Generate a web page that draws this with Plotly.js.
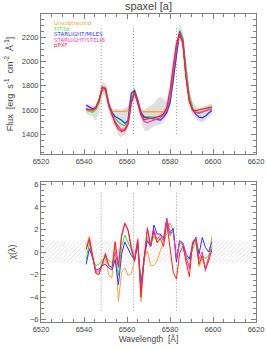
<!DOCTYPE html>
<html>
<head>
<meta charset="utf-8">
<script src="https://cdn.plot.ly/plotly-3.0.1.min.js"></script>
<style>html,body{margin:0;padding:0;background:#fff;}#chart{width:266px;height:349px;}</style>
</head>
<body>
<div id="chart"></div>
<script>
// Wavelength grid (Å)
const wavelength = [6541, 6542.5, 6544, 6545.5, 6547, 6548.5, 6550, 6551.5, 6553, 6554.5,
  6556, 6557.5, 6559, 6560.5, 6562, 6563.5, 6565, 6566.5, 6568, 6569.5,
  6571, 6572.5, 6574, 6575.5, 6577, 6578.5, 6580, 6581.5, 6583, 6584.5,
  6586, 6587.5, 6589, 6590.5, 6592, 6593.5, 6595, 6596.5, 6598, 6599.5];

const seriesNames = ["Unsubtracted", "FIT3d", "STARLIGHT/MILES", "STARLIGHT/STELIB", "pPXF"];
const seriesColors = ["#ffa040", "#33ee33", "#3333ff", "#ff33cc", "#ff2222"];

// Flux [erg s^-1 cm^-2 Å^-1]
const fluxUnsub = [1595,1590,1590,1610,1680,1790,1790,1650,1590,1588,1588,1588,1588,1595,1700,1750,1660,1585,1585,1585,1585,1585,1585,1585,1585,1595,1680,1850,2080,2240,2170,1900,1700,1610,1590,1580,1585,1595,1610,1625];
const fluxFit3d = [1600,1590,1580,1600,1660,1760,1760,1640,1575,1530,1500,1480,1470,1520,1700,1765,1680,1570,1545,1545,1545,1540,1540,1550,1565,1590,1660,1840,2080,2260,2200,1950,1720,1620,1580,1570,1580,1595,1605,1615];
const fluxMiles = [1640,1625,1610,1620,1680,1790,1770,1650,1580,1545,1530,1515,1490,1510,1740,1760,1680,1580,1540,1535,1530,1525,1520,1515,1540,1580,1660,1850,2080,2250,2170,1880,1680,1600,1565,1540,1535,1550,1575,1595];
const fluxStelib = [1610,1605,1600,1620,1680,1780,1770,1640,1560,1500,1460,1430,1445,1490,1660,1745,1660,1560,1505,1495,1505,1515,1525,1535,1560,1600,1700,1900,2120,2240,2160,1880,1680,1600,1580,1575,1585,1595,1600,1605];
const fluxPpxf = [1605,1600,1598,1615,1680,1785,1780,1640,1555,1490,1440,1420,1430,1480,1660,1745,1660,1560,1520,1525,1530,1530,1540,1550,1570,1620,1760,1960,2150,2235,2150,1860,1670,1600,1595,1600,1605,1615,1620,1625];
// Observed flux envelope (grey band)
const fluxLow = [1570,1560,1545,1510,1570,1730,1710,1590,1510,1450,1390,1375,1400,1450,1630,1710,1610,1510,1430,1425,1445,1465,1475,1480,1505,1545,1610,1790,2030,2190,2110,1810,1630,1555,1525,1505,1495,1515,1545,1565];
const fluxHigh = [1650,1640,1630,1645,1710,1830,1820,1690,1610,1610,1605,1600,1615,1630,1750,1795,1710,1615,1600,1625,1635,1655,1690,1710,1690,1670,1790,1990,2190,2315,2250,1980,1770,1670,1635,1615,1625,1635,1645,1655];

// Residuals chi(lambda)
const chiUnsub = [0.5,1.4,-0.3,-1.8,-1.9,-1.3,-0.6,-2.0,-2.3,0.9,-4.4,-1.8,-1.4,-2.1,-1.9,-0.8,1.2,-4.4,-0.6,0.1,-1.2,-1.2,-0.8,0.1,0.8,1.6,2.6,1.9,-0.5,0.9,0.6,-0.6,-1.3,0.5,1.3,-1.3,-0.6,-1.4,-0.5,1.4];
const chiFit3d = [-0.7,0.8,-0.6,-1.2,-1.1,-0.7,-0.5,-0.7,-1.0,-0.5,-2.1,0.5,1.5,0.8,0.2,-0.9,0.9,-2.9,-0.4,1.3,0.6,1.4,0.9,1.3,1.0,2.5,1.4,2.0,-0.7,0.8,0.6,-0.5,-0.7,0.2,0.9,-0.8,-0.3,-0.6,-0.3,0.5];
const chiMiles = [-1.1,0.3,-0.5,-1.6,-1.5,-1.2,-1.1,-1.4,-1.6,-0.7,-2.9,-0.2,0.9,0.3,-0.3,-0.7,0.7,-2.9,-0.5,1.0,0.5,2.4,1.6,1.6,1.2,3.0,1.7,2.1,-0.9,1.0,0.8,-0.2,-0.6,0.6,1.3,-0.2,1.3,0.4,0.0,0.9];
const chiStelib = [0.3,1.1,-0.5,-1.7,-1.7,-1.0,-0.3,-1.2,-1.4,0.0,-1.4,1.5,2.6,2.0,0.5,-0.6,1.1,-3.5,-0.3,2.2,0.6,2.0,1.1,1.5,1.0,2.9,1.6,1.8,-0.6,1.0,0.7,-0.4,-1.5,0.9,1.2,-0.6,0.0,-1.7,-0.4,0.3];
const chiPpxf = [0.2,1.2,-0.3,-1.9,-2.0,-1.1,-0.1,-1.2,-1.4,0.9,-1.2,1.4,2.5,1.9,0.3,-0.8,1.0,-4.0,-0.5,2.0,0.5,1.8,0.8,1.2,0.5,2.6,0.3,-1.8,-2.4,-0.1,0.5,-0.9,-2.2,0.8,1.1,-1.1,-0.3,-1.5,-0.8,0.2];

// Emission line markers (Å): [NII] 6548, Halpha, [NII] 6583
const lineWl = [6548, 6563, 6583];
const lineSpanTop = [1400, 2300];
const lineSpanBottom = [-5.2, 5.3];
// Chi band limits and x-range of band
const bandX = [6520, 6620];
const bandY = [-1, 1];

const fluxSeries = [fluxUnsub, fluxFit3d, fluxMiles, fluxStelib, fluxPpxf];
const chiSeries = [chiUnsub, chiFit3d, chiMiles, chiStelib, chiPpxf];

const traces = [];
// grey envelope
traces.push({x: wavelength, y: fluxLow, mode: 'lines', line: {width: 0, color: '#dedede'}, xaxis: 'x', yaxis: 'y', hoverinfo: 'skip'});
traces.push({x: wavelength, y: fluxHigh, mode: 'lines', fill: 'tonexty', fillcolor: '#dedede', line: {width: 0, color: '#dedede'}, xaxis: 'x', yaxis: 'y', hoverinfo: 'skip'});
// hatched band in chi panel
traces.push({x: [bandX[0], bandX[1], bandX[1], bandX[0], bandX[0]], y: [bandY[0], bandY[0], bandY[1], bandY[1], bandY[0]],
  mode: 'lines', fill: 'toself', line: {width: 0, color: 'rgba(0,0,0,0)'},
  fillcolor: 'rgba(0,0,0,0)',
  fillpattern: {shape: '/', fgcolor: '#cfcfcf', bgcolor: 'rgba(255,255,255,0)', size: 3, solidity: 0.2},
  xaxis: 'x2', yaxis: 'y2', hoverinfo: 'skip'});
// dotted line markers
lineWl.forEach(w => {
  traces.push({x: [w, w], y: lineSpanTop, mode: 'lines', line: {color: '#999', width: 1, dash: '1px,2px'}, xaxis: 'x', yaxis: 'y', hoverinfo: 'skip'});
  traces.push({x: [w, w], y: lineSpanBottom, mode: 'lines', line: {color: '#999', width: 1, dash: '1px,2px'}, xaxis: 'x2', yaxis: 'y2', hoverinfo: 'skip'});
});
// spectra
fluxSeries.forEach((s, i) => {
  traces.push({x: wavelength, y: s, name: seriesNames[i], mode: 'lines', line: {color: seriesColors[i], width: 1.3}, xaxis: 'x', yaxis: 'y'});
});
chiSeries.forEach((s, i) => {
  traces.push({x: wavelength, y: s, name: seriesNames[i], mode: 'lines', line: {color: seriesColors[i], width: 1.0}, xaxis: 'x2', yaxis: 'y2'});
});

const axisCommon = {
  showgrid: false, zeroline: false, showline: true, linecolor: '#808080', linewidth: 1,
  mirror: 'allticks', ticks: 'inside', ticklen: 5, tickcolor: '#808080', tickwidth: 1,
  tickfont: {size: 7.5, color: '#444'}
};

const legendAnn = seriesNames.map((n, i) => ({
  text: n, xref: 'paper', yref: 'paper', x: 0.05, y: 1 - (9.3 + i * 5.5) / 308, xanchor: 'left', yanchor: 'middle',
  showarrow: false, font: {size: 5.5, color: seriesColors[i], family: 'DejaVu Sans'}
}));

const layout = {
  width: 266, height: 349,
  margin: {l: 41, r: 10, t: 14, b: 27},
  paper_bgcolor: '#fff', plot_bgcolor: '#fff',
  showlegend: false,
  font: {family: 'Liberation Sans, Arial, sans-serif', size: 8, color: '#444'},
  title: {text: 'spaxel [a]', x: 0.558, xref: 'container', xanchor: 'center', y: 0.982, yref: 'container', yanchor: 'middle', font: {size: 11, color: '#444'}},
  xaxis: Object.assign({}, axisCommon, {domain: [0, 1], range: [6520, 6620], anchor: 'y', dtick: 20, tick0: 6520,
    minor: {dtick: 5, ticklen: 3, ticks: 'inside', tickcolor: '#808080', showgrid: false}}),
  yaxis: Object.assign({}, axisCommon, {domain: [0.5455, 1], range: [1234, 2397], anchor: 'x', dtick: 200, tick0: 1400,
    minor: {dtick: 50, ticklen: 3, ticks: 'inside', tickcolor: '#808080', showgrid: false},
    title: {text: 'Flux&nbsp;&nbsp;[erg&nbsp;&nbsp;s<sup>-1</sup>&nbsp;&nbsp;cm<sup>-2</sup>&nbsp;&nbsp;Å<sup>-1</sup>]', font: {size: 9, color: '#444'}, standoff: 6}}),
  xaxis2: Object.assign({}, axisCommon, {domain: [0, 1], range: [6520, 6620], anchor: 'y2', dtick: 20, tick0: 6520,
    minor: {dtick: 5, ticklen: 3, ticks: 'inside', tickcolor: '#808080', showgrid: false},
    title: {text: 'Wavelength&nbsp;&nbsp;[Å]', font: {size: 8.5, color: '#444'}, standoff: 3}}),
  yaxis2: Object.assign({}, axisCommon, {domain: [0, 0.4545], range: [-6.21, 6.21], anchor: 'x2', dtick: 2, tick0: 0,
    minor: {dtick: 0.5, ticklen: 3, ticks: 'inside', tickcolor: '#808080', showgrid: false},
    title: {text: 'χ(λ)', font: {size: 9, color: '#444'}, standoff: 12}}),
  annotations: legendAnn
};

Plotly.newPlot('chart', traces, layout, {displayModeBar: false, staticPlot: true});
</script>
</body>
</html>
